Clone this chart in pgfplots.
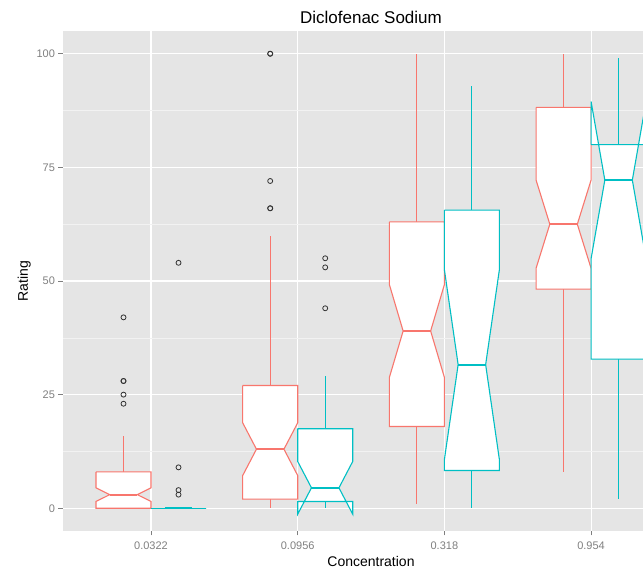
\documentclass[border=0pt]{standalone}
\usepackage{pgfplots}
\pgfplotsset{compat=1.18}
\usepackage{fontspec}
\setmainfont{Liberation Sans}
\definecolor{salmon}{HTML}{F8766D}
\definecolor{tealc}{HTML}{00BFC4}
\definecolor{ggbg}{HTML}{E5E5E5}
\definecolor{ggminor}{HTML}{F2F2F2}
\definecolor{ggtext}{HTML}{7F7F7F}
\definecolor{ggpt}{HTML}{333333}
\pgfplotsset{
  sbox/.style={draw=salmon, fill=white, line width=1.1bp, line join=miter, mark=none},
  tbox/.style={draw=tealc, fill=white, line width=1.1bp, line join=miter, mark=none},
  swh/.style={salmon, line width=1.1bp, mark=none},
  twh/.style={tealc, line width=1.1bp, mark=none},
  smed/.style={salmon, line width=2.2bp, mark=none},
  tmed/.style={tealc, line width=2.2bp, mark=none},
  outl/.style={only marks, mark=o, mark size=2.5bp, mark options={draw=ggpt, line width=0.8bp}},
}
\begin{document}
\begin{tikzpicture}
\useasboundingbox (0,0) rectangle (643bp,569bp);
\begin{axis}[
  at={(63bp,38bp)}, anchor=south west,
  scale only axis, width=580bp, height=500bp,
  xmin=0.4, xmax=4.354, ymin=-5, ymax=105,
  axis background/.style={fill=ggbg},
  axis line style={draw=none},
  xtick={1,2,3,4}, xticklabels={0.0322,0.0956,0.318,0.954},
  ytick={0,25,50,75,100},
  minor ytick={12.5,37.5,62.5,87.5},
  xmajorgrids, ymajorgrids, yminorgrids,
  major grid style={white, line width=1.1bp},
  minor grid style={ggminor, line width=0.6bp},
  tick align=outside, major tick length=4.5bp, minor tick length=0pt,
  tick style={ggtext, line width=0.6bp},
  tick pos=left,
  ticklabel style={font=\fontsize{11bp}{13bp}\selectfont, text=ggtext},
  xticklabel style={yshift=-3bp},
  /pgf/number format/assume math mode=true,
  title={Diclofenac Sodium},
  every axis title/.style={at={(0.531,1)}, anchor=base, yshift=7bp, font=\fontsize{17bp}{19bp}\selectfont},
  xlabel={Concentration},
  every axis x label/.style={at={(0.531,0)}, anchor=base, yshift=-35bp, font=\fontsize{14bp}{16bp}\selectfont},
  ylabel={Rating},
  every axis y label/.style={at={(0,0.5)}, xshift=-35bp, rotate=90, anchor=base, font=\fontsize{14bp}{16bp}\selectfont},
]
% ---- 0.0322 ----
\addplot[outl] coordinates {(0.8125,23) (0.8125,25) (0.8125,28) (0.8125,28) (0.8125,42)};
\addplot[swh] coordinates {(0.8125,8) (0.8125,16)};
\addplot[sbox] coordinates {(0.625,8) (0.625,4.5) (0.71875,3) (0.625,1.5) (0.625,0) (1.0,0) (1.0,1.5) (0.90625,3) (1.0,4.5) (1.0,8) (0.625,8)};
\addplot[smed] coordinates {(0.71875,3) (0.90625,3)};
\addplot[outl] coordinates {(1.1875,3) (1.1875,4) (1.1875,9) (1.1875,54)};
\addplot[tbox] coordinates {(1.0,0) (1.0,0) (1.09375,0) (1.0,0) (1.0,0) (1.375,0) (1.375,0) (1.28125,0) (1.375,0) (1.375,0) (1.0,0)};
\addplot[tmed] coordinates {(1.09375,0) (1.28125,0)};
% ---- 0.0956 ----
\addplot[outl] coordinates {(1.8125,66) (1.8125,66) (1.8125,72) (1.8125,100) (1.8125,100)};
\addplot[swh] coordinates {(1.8125,27) (1.8125,60)};
\addplot[swh] coordinates {(1.8125,2) (1.8125,0)};
\addplot[sbox] coordinates {(1.625,27) (1.625,18.8) (1.71875,13) (1.625,7.2) (1.625,2) (2.0,2) (2.0,7.2) (1.90625,13) (2.0,18.8) (2.0,27) (1.625,27)};
\addplot[smed] coordinates {(1.71875,13) (1.90625,13)};
\addplot[outl] coordinates {(2.1875,44) (2.1875,53) (2.1875,55)};
\addplot[twh] coordinates {(2.1875,17.5) (2.1875,29)};
\addplot[twh] coordinates {(2.1875,1.5) (2.1875,0)};
\addplot[tbox] coordinates {(2.0,17.5) (2.0,10.3) (2.09375,4.5) (2.0,-1.3) (2.0,1.5) (2.375,1.5) (2.375,-1.3) (2.28125,4.5) (2.375,10.3) (2.375,17.5) (2.0,17.5)};
\addplot[tmed] coordinates {(2.09375,4.5) (2.28125,4.5)};
% ---- 0.318 ----
\addplot[swh] coordinates {(2.8125,63) (2.8125,100)};
\addplot[swh] coordinates {(2.8125,18) (2.8125,1)};
\addplot[sbox] coordinates {(2.625,63) (2.625,49.2) (2.71875,39) (2.625,28.8) (2.625,18) (3.0,18) (3.0,28.8) (2.90625,39) (3.0,49.2) (3.0,63) (2.625,63)};
\addplot[smed] coordinates {(2.71875,39) (2.90625,39)};
\addplot[twh] coordinates {(3.1875,65.6) (3.1875,93)};
\addplot[twh] coordinates {(3.1875,8.3) (3.1875,0)};
\addplot[tbox] coordinates {(3.0,65.6) (3.0,52.5) (3.09375,31.6) (3.0,10.7) (3.0,8.3) (3.375,8.3) (3.375,10.7) (3.28125,31.6) (3.375,52.5) (3.375,65.6) (3.0,65.6)};
\addplot[tmed] coordinates {(3.09375,31.6) (3.28125,31.6)};
% ---- 0.954 ----
\addplot[swh] coordinates {(3.8125,88.2) (3.8125,100)};
\addplot[swh] coordinates {(3.8125,48.2) (3.8125,8)};
\addplot[sbox] coordinates {(3.625,88.2) (3.625,72.2) (3.71875,62.5) (3.625,52.8) (3.625,48.2) (4.0,48.2) (4.0,52.8) (3.90625,62.5) (4.0,72.2) (4.0,88.2) (3.625,88.2)};
\addplot[smed] coordinates {(3.71875,62.5) (3.90625,62.5)};
\addplot[twh] coordinates {(4.1875,80) (4.1875,99)};
\addplot[twh] coordinates {(4.1875,32.8) (4.1875,2)};
\addplot[tbox] coordinates {(4.0,80) (4.0,89.5) (4.09375,72.2) (4.0,54.9) (4.0,32.8) (4.375,32.8) (4.375,54.9) (4.28125,72.2) (4.375,89.5) (4.375,80) (4.0,80)};
\addplot[tmed] coordinates {(4.09375,72.2) (4.28125,72.2)};
\end{axis}
\end{tikzpicture}
\end{document}
